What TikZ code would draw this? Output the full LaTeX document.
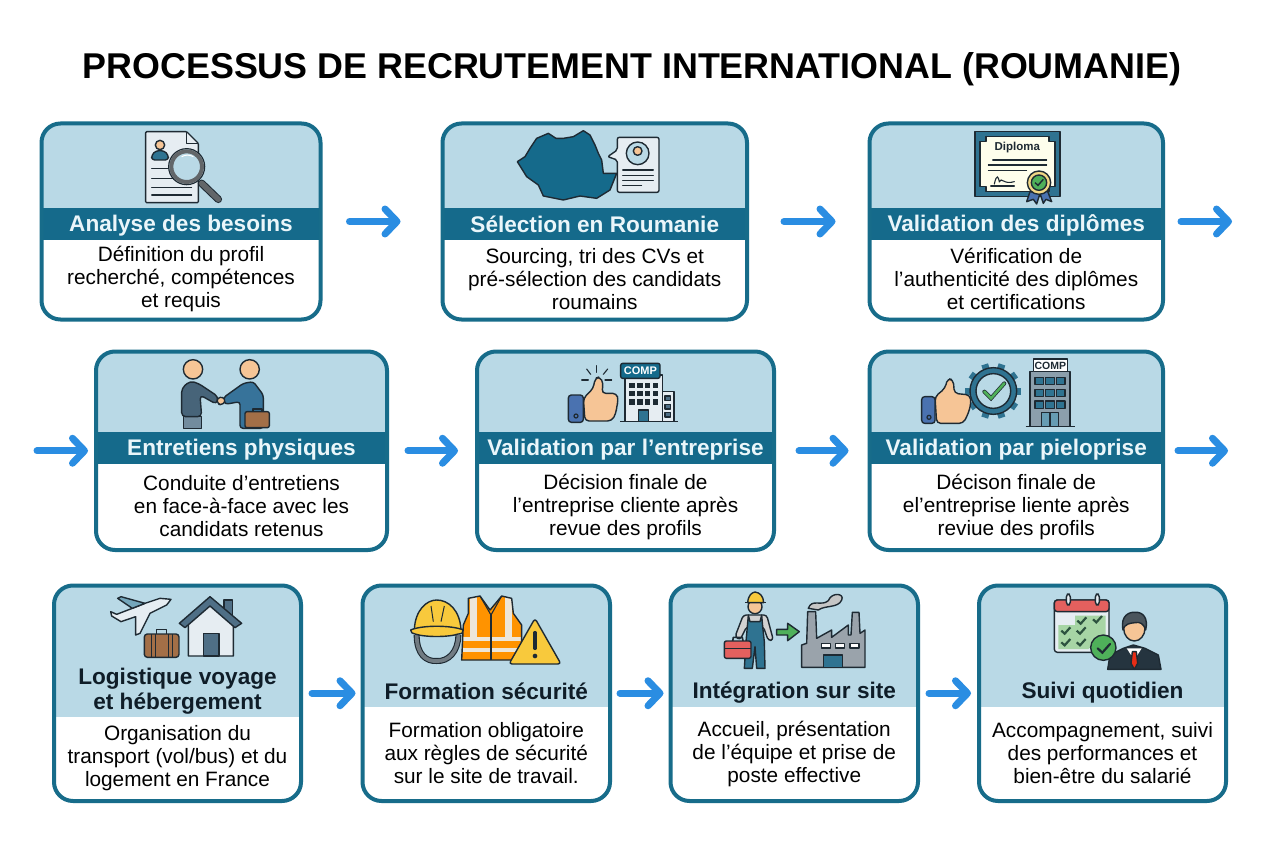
\documentclass[tikz,border=0pt]{standalone}
\usepackage{fontspec}
\setmainfont{Liberation Sans}
\usetikzlibrary{arrows.meta,calc}
\definecolor{cardline}{HTML}{176C8A}
\definecolor{cardlight}{HTML}{B9D9E6}
\definecolor{cardband}{HTML}{156A8B}
\definecolor{flowblue}{HTML}{2A8DE2}
\definecolor{ink}{HTML}{1E2A33}
\definecolor{headdark}{HTML}{0F1D28}
\definecolor{headlight}{HTML}{EAF6FA}
\definecolor{skin}{HTML}{F6C596}
\definecolor{teal}{HTML}{2F7391}
\definecolor{paper}{HTML}{E6EDF2}
\definecolor{gold}{HTML}{F8C93C}
\definecolor{grnok}{HTML}{4FB05A}
\definecolor{grnpale}{HTML}{A7D5A5}
\definecolor{brownc}{HTML}{A36F47}
\definecolor{slate}{HTML}{4F6F86}
\definecolor{cuffb}{HTML}{4A72B0}
\definecolor{factgray}{HTML}{9AA3AB}
\definecolor{towergray}{HTML}{8C9FAC}
\definecolor{calred}{HTML}{E4605E}
\definecolor{stripe}{HTML}{EDE6D8}
\tikzset{
  cardbox/.style={draw=cardline,line width=4pt,rounded corners=19pt,inner sep=0pt,outer sep=0pt},
  cardhead/.style={font=\bfseries\fontsize{22.6}{25}\selectfont,align=center,inner sep=0pt},
  cardtext/.style={font=\fontsize{20.8}{23}\selectfont,align=center,inner sep=0pt,text=black},
  flow/.style={draw=flowblue,line width=7pt,line cap=round,-{Straight Barb[length=12pt,width=25pt,line width=7pt,round]}},
  zc/.style 2 args={shift={(#1,#2)},x=0.33333pt,y=-0.33333pt},
  ic/.style={draw=ink,line width=1.4pt,line join=round},
  thin line/.style={draw=ink,line width=1.1pt,line cap=round},
}
\newcommand{\bandcol}{cardband}
\newcommand{\headcol}{headlight}
% id x0 x1 y0 y1 bandtop bandbottom title body
\newcommand{\makecard}[9]{%
  \begin{scope}
    \clip[rounded corners=19pt] (#2,#4) rectangle (#3,#5);
    \fill[white] (#2,#4) rectangle (#3,#5);
    \fill[cardlight] (#2,#4) rectangle (#3,#6);
    \fill[\bandcol] (#2,#6) rectangle (#3,#7);
  \end{scope}
  \node[cardbox,minimum width=(#3-#2)*1pt,minimum height=(#5-#4)*1pt] (#1) at ({(#2+#3)/2},{(#4+#5)/2}) {};
  \node[cardhead,text=\headcol] (#1-head) at ({(#2+#3)/2},{(#6+#7)/2}) {\rule{0pt}{20pt}#8\rule[-4pt]{0pt}{4pt}};
  \node[cardtext] (#1-body) at ({(#2+#3)/2},{(#7+#5)/2-0.5}) {#9};
}
\begin{document}
\begin{tikzpicture}[x=1pt,y=-1pt]
\useasboundingbox (0,0) rectangle (1264,848);
\fill[white] (0,0) rectangle (1264,848);
\node[inner sep=0pt,font=\bfseries\fontsize{35.85}{40}\selectfont,text=black] (title) at (632,69) {PROCESSUS DE RECRUTEMENT INTERNATIONAL (ROUMANIE)};

\makecard{a}{41.5}{320.5}{123.5}{319.5}{208}{240}{Analyse des besoins}{Définition du profil\\recherché, compétences\\et requis}
\makecard{b}{442.5}{747}{123.5}{319.5}{208}{240}{Sélection en Roumanie}{Sourcing, tri des CVs et\\pré-sélection des candidats\\roumains}
\makecard{c}{869.5}{1163}{123.5}{319.5}{208}{240}{Validation des diplômes}{Vérification de\\l'authenticité des diplômes\\et certifications}
\makecard{d}{96}{387}{351.5}{550}{432}{464}{Entretiens physiques}{Conduite d'entretiens\\en face-à-face avec les\\candidats retenus}
\makecard{e}{477}{774}{351.5}{550}{432}{464}{Validation par l’entreprise}{Décision finale de\\l'entreprise cliente après\\revue des profils}
\makecard{f}{869.5}{1163}{351.5}{550}{432}{464}{Validation par pieloprise}{Décison finale de\\el'entreprise liente après\\reviue des profils}
\renewcommand{\bandcol}{cardlight}
\renewcommand{\headcol}{headdark}
\makecard{g}{54}{301}{585.5}{801}{661}{717}{Logistique voyage\\et hébergement}{Organisation du\\transport (vol/bus) et du\\logement en France}
\makecard{h}{362.5}{610}{585.5}{801}{675}{707}{Formation sécurité}{Formation obligatoire\\aux règles de sécurité\\sur le site de travail.}
\makecard{i}{670.5}{918}{585.5}{801}{675}{707}{Intégration sur site}{Accueil, présentation\\de l'équipe et prise de\\poste effective}
\makecard{j}{979}{1226}{585.5}{801}{675}{707}{Suivi quotidien}{Accompagnement, suivi\\des performances et\\bien-être du salarié}

% connectors
\coordinate (c-out) at (1232,221.5);
\coordinate (d-in) at (37,450.75);
\coordinate (f-out) at (1228,450.75);
\draw[flow,shorten <=29pt,shorten >=42pt] (a) -- (b);
\draw[flow,shorten <=37pt,shorten >=34pt] (b) -- (c);
\draw[flow,shorten <=18pt] (c) -- (c-out);
\draw[flow,shorten >=8pt] (d-in) -- (d);
\draw[flow,shorten <=21pt,shorten >=19pt] (d) -- (e);
\draw[flow,shorten <=25pt,shorten >=21pt] (e) -- (f);
\draw[flow,shorten <=15pt] (f) -- (f-out);
\draw[flow,shorten <=11pt,shorten >=7pt] (g) -- (h);
\draw[flow,shorten <=10pt,shorten >=7pt] (h) -- (i);
\draw[flow,shorten <=11pt,shorten >=8pt] (i) -- (j);

% icon a: document and magnifier
\begin{scope}[zc={30}{110}]
  \filldraw[ic,fill=paper,rounded corners=1pt] (347,65) -- (470,65) -- (505,100) -- (505,278) -- (347,278) -- cycle;
  \draw[ic] (470,65) -- (470,100) -- (505,100);
  \filldraw[ic,fill=skin] (390,105) circle (14);
  \filldraw[ic,fill=teal,rounded corners=3pt] (365,150) -- (365,135) -- (378,122) -- (402,122) -- (415,135) -- (415,150) -- cycle;
  \foreach \yy in {175,205,232,255} \draw[thin line] (365,\yy) -- (485,\yy);
  \draw[ink,line width=7.5pt,line cap=round] (515,220) -- (565,268);
  \draw[gray!70!ink,line width=5.5pt,line cap=round] (515,220) -- (565,268);
  \filldraw[draw=ink,line width=1.2pt,fill=cardlight] (470,170) circle (54);
  \draw[draw=gray!70!ink,line width=4pt] (470,170) circle (46);
  \draw[white,line width=1pt] (455,140) arc[start angle=240,end angle=300,radius=35];
\end{scope}

% icon b: map and CV
\begin{scope}[zc={430}{110}]
  \filldraw[ic,fill=cardband] (262,155) -- (285,140) -- (300,115) -- (320,85) -- (355,70) -- (378,85) -- (400,85) -- (430,80) -- (460,62) -- (480,75) -- (495,105) -- (505,130) -- (515,150) -- (520,190) -- (560,190) -- (550,215) -- (540,240) -- (500,265) -- (450,258) -- (400,270) -- (340,258) -- (325,225) -- (290,200) -- cycle;
  \filldraw[ic,fill=paper,rounded corners=2pt] (562,82) -- (687,82) -- (687,247) -- (562,247) -- (562,150) -- (533,140) -- (562,120) -- cycle;
  \filldraw[ic,fill=cardlight] (623,130) circle (34);
  \begin{scope}
    \clip (623,130) circle (33);
    \filldraw[ic,fill=cuffb!80!purple] (593,170) arc[start angle=180,end angle=0,radius=30];
  \end{scope}
  \filldraw[ic,fill=skin] (623,123) circle (13);
  \foreach \yy in {180,197,211} \draw[thin line] (578,\yy) -- (670,\yy);
  \draw[thin line] (578,227) -- (635,227);
\end{scope}

% icon c: diploma
\begin{scope}[zc={860}{110}]
  \filldraw[ic,fill=teal] (345,65) rectangle (600,260);
  \filldraw[ic,fill=paper!40!yellow!12!white] (378,80) -- (567,80) -- (567,95) -- (585,95) -- (585,230) -- (567,230) -- (567,245) -- (378,245) -- (378,230) -- (360,230) -- (360,95) -- (378,95) -- cycle;
  \node[inner sep=0pt,font=\bfseries\fontsize{11.5}{13}\selectfont,text=ink] (diplomaword) at (472,114) {Diploma};
  \draw[thin line] (398,150) -- (560,150);
  \draw[thin line] (385,165) -- (560,165);
  \draw[thin line] (385,182) -- (500,182);
  \draw[thin line] (392,228) -- (463,228);
  \draw[thin line] (403,222) .. controls (410,190) and (415,200) .. (418,215) .. controls (425,200) and (430,225) .. (463,215);
  \filldraw[ic,fill=cuffb] (510,245) -- (500,275) -- (520,268) -- (530,282) -- (540,250) -- cycle;
  \filldraw[ic,fill=cuffb] (540,250) -- (550,280) -- (558,268) -- (575,275) -- (562,242) -- cycle;
  \filldraw[ic,fill=gold!60!paper] (537,218) circle (35);
  \filldraw[ic,fill=grnok] (537,218) circle (23);
  \draw[ink,line width=1.4pt] (525,218) -- (534,226) -- (550,208);
\end{scope}

% icon d: handshake
\begin{scope}[zc={90}{345}]
  \filldraw[ic,fill=slate!80!white] (280,215) rectangle (335,250);
  \filldraw[ic,fill=slate!90!black,rounded corners=4pt] (275,215) -- (275,130) -- (300,108) -- (325,115) -- (385,155) -- (380,178) -- (330,150) -- (335,215) -- cycle;
  \filldraw[ic,fill=teal!70!cuffb,rounded corners=3pt] (450,250) -- (450,170) -- (405,178) -- (400,158) -- (460,115) -- (490,110) -- (520,150) -- (520,250) -- cycle;
  \filldraw[ic,fill=skin,rounded corners=3pt] (380,160) -- (400,155) -- (407,170) -- (395,180) -- (383,177) -- cycle;
  \filldraw[ic,fill=skin] (309,73) circle (29);
  \filldraw[ic,fill=skin] (479,73) circle (29);
  \draw[ic,line width=1.8pt] (490,200) -- (490,192) -- (515,192) -- (515,200);
  \filldraw[ic,fill=brownc,rounded corners=2pt] (465,200) rectangle (538,248);
\end{scope}

% icon e: thumb and building
\begin{scope}[zc={470}{345}]
  \foreach \xa/\ya/\xb/\yb in {380/62/380/82,350/72/362/88,413/72/400/88,335/105/355/105,405/105/425/105} \draw[thin line] (\xa,\ya) -- (\xb,\yb);
  \filldraw[ic,fill=skin,rounded corners=4pt] (340,160) -- (370,130) -- (375,100) -- (390,95) -- (400,115) -- (395,145) -- (440,145) -- (445,165) -- (440,185) -- (438,205) -- (425,228) -- (345,228) -- cycle;
  \filldraw[ic,fill=cuffb,rounded corners=3pt] (295,150) rectangle (340,232);
  \draw[ink,line width=1.2pt] (318,213) circle (6);
  \filldraw[ic,fill=paper] (578,140) rectangle (612,230);
  \foreach \yy in {153,178,202} \filldraw[ic,fill=slate] (585,\yy) rectangle (602,\yy+14);
  \filldraw[ic,fill=paper] (465,90) rectangle (578,230);
  \foreach \yy in {113,137,163} \foreach \xx in {478,502,525,548} \fill[ink] (\xx,\yy) rectangle (\xx+16,\yy+16);
  \filldraw[ic,fill=teal] (505,195) rectangle (535,230);
  \filldraw[ic,fill=cardband,rounded corners=2pt] (452,55) rectangle (570,100);
  \node[inner sep=0pt,font=\bfseries\fontsize{11}{13}\selectfont,text=white] (compe) at (511,78) {COMP};
  \draw[ink,line width=1.5pt] (450,230) -- (625,230);
\end{scope}

% icon f: thumb, gear and building
\begin{scope}[zc={865}{345}]
  \foreach \aa in {0,36,...,324} \draw[teal,line width=7pt] ({385+68*cos(\aa)},{138+68*sin(\aa)}) -- ({385+84*cos(\aa)},{138+84*sin(\aa)});
  \filldraw[ic,fill=teal] (385,138) circle (70);
  \filldraw[ic,fill=cardlight] (385,138) circle (52);
  \draw[ink,line width=4pt,line cap=round] (358,140) -- (378,160) -- (418,115);
  \draw[grnok,line width=2.6pt,line cap=round] (358,140) -- (378,160) -- (418,115);
  \filldraw[ic,fill=skin,rounded corners=4pt] (210,155) -- (240,130) -- (248,100) -- (265,105) -- (268,145) -- (315,150) -- (318,175) -- (310,205) -- (295,235) -- (215,235) -- cycle;
  \filldraw[ic,fill=cuffb,rounded corners=3pt] (170,155) rectangle (210,235);
  \draw[ink,line width=1.2pt] (192,217) circle (6);
  \filldraw[ic,fill=towergray] (495,80) rectangle (615,245);
  \foreach \yy in {97,133,168} \foreach \xx in {510,542,574} \filldraw[ic,fill=teal] (\xx,\yy) rectangle (\xx+26,\yy+22);
  \filldraw[ic,fill=teal!60!cardlight] (530,203) rectangle (580,245);
  \draw[ink,line width=1.2pt] (555,203) -- (555,245);
  \filldraw[ic,fill=white] (505,42) rectangle (607,80);
  \node[inner sep=0pt,font=\bfseries\fontsize{10.5}{12}\selectfont,text=ink] (compf) at (556,62) {COMP};
  \draw[ink,line width=1.5pt] (482,245) -- (630,245);
\end{scope}

% icon g: plane, case, house
\begin{scope}[zc={45}{580}]
  \filldraw[ic,fill=paper] (378,58) -- (345,55) -- (300,70) -- (262,85) -- (215,103) -- (197,95) -- (200,108) -- (228,125) -- (272,110) -- (272,165) -- (285,160) -- (315,100) -- (365,75) -- cycle;
  \filldraw[ic,fill=teal!50!cardlight] (228,50) -- (218,55) -- (262,85) -- (300,70) -- cycle;
  \draw[ic,line width=1.6pt] (335,162) -- (335,148) -- (365,148) -- (365,162);
  \filldraw[ic,fill=brownc,rounded corners=3pt] (298,162) rectangle (402,232);
  \foreach \xx in {320,332,370,382} \draw[ink,line width=1pt] (\xx,162) -- (\xx,232);
  \filldraw[ic,fill=slate] (537,60) rectangle (562,110);
  \filldraw[ic,fill=paper] (430,120) -- (495,70) -- (565,120) -- (565,228) -- (430,228) -- cycle;
  \filldraw[ic,fill=slate] (403,130) -- (495,50) -- (590,130) -- (570,143) -- (495,78) -- (420,143) -- cycle;
  \filldraw[ic,fill=slate] (475,160) rectangle (522,228);
\end{scope}

% icon h: helmet, vest, warning
\begin{scope}[zc={355}{580}]
  \draw[ink,line width=6pt] (185,165) .. controls (185,225) and (215,245) .. (245,243) .. controls (280,245) and (310,215) .. (310,165);
  \draw[gray!70!slate,line width=3.8pt] (185,165) .. controls (185,225) and (215,245) .. (245,243) .. controls (280,245) and (310,215) .. (310,165);
  \filldraw[ic,fill=gold] (178,150) .. controls (180,90) and (215,60) .. (245,60) .. controls (280,60) and (315,90) .. (318,150) -- cycle;
  \filldraw[ic,fill=gold] (167,150) .. controls (200,135) and (290,135) .. (325,150) .. controls (325,158) and (320,162) .. (310,162) .. controls (280,172) and (210,172) .. (180,162) .. controls (172,160) and (167,158) .. (167,150) -- cycle;
  \draw[ink,line width=1pt] (228,78) -- (235,125);
  \draw[ink,line width=1pt] (268,78) -- (258,125);
  \fill[orange!85!yellow] (340,55) -- (375,48) -- (405,90) -- (440,48) -- (470,55) -- (475,100) -- (500,135) -- (500,240) -- (320,240) -- (325,135) -- (340,100) -- cycle;
  \begin{scope}
    \clip (340,55) -- (375,48) -- (405,90) -- (440,48) -- (470,55) -- (475,100) -- (500,135) -- (500,240) -- (320,240) -- (325,135) -- (340,100) -- cycle;
    \fill[stripe] (345,40) rectangle (365,170);
    \fill[stripe] (450,40) rectangle (470,170);
    \fill[stripe] (320,170) rectangle (500,182);
    \fill[stripe] (320,205) rectangle (500,215);
  \end{scope}
  \draw[ink,line width=1.1pt] (375,48) -- (408,105) -- (440,48);
  \draw[ink,line width=1.1pt] (408,105) -- (408,240);
  \draw[ic] (340,55) -- (375,48) -- (405,90) -- (440,48) -- (470,55) -- (475,100) -- (500,135) -- (500,240) -- (320,240) -- (325,135) -- (340,100) -- cycle;
  \filldraw[ic,fill=gold,rounded corners=3pt] (540,115) -- (618,252) -- (462,252) -- cycle;
  \draw[ink,line width=3.5pt,line cap=round] (540,158) -- (540,205);
  \fill[ink] (540,228) circle (7);
\end{scope}

% icon i: worker and factory
\begin{scope}[zc={665}{580}]
  \filldraw[ic,fill=gray!35!white,rounded corners=3pt] (235,105) -- (305,105) -- (325,180) -- (310,182) -- (295,140) -- (245,140) -- (225,180) -- (210,170) -- cycle;
  \filldraw[ic,fill=teal] (250,105) -- (255,125) -- (285,125) -- (290,105) -- (293,140) -- (298,185) -- (300,265) -- (275,265) -- (270,200) -- (262,265) -- (238,265) -- (243,185) -- (247,140) -- cycle;
  \filldraw[ic,fill=skin] (270,80) circle (21);
  \filldraw[ic,fill=gold] (248,68) .. controls (250,45) and (260,38) .. (270,36) .. controls (285,38) and (295,48) .. (296,68) -- cycle;
  \draw[ic,line width=1.6pt,fill=gold] (240,68) -- (302,68);
  \draw[ic,line width=1.6pt] (203,183) -- (205,172) -- (232,172) -- (234,183);
  \filldraw[ic,fill=calred,rounded corners=2pt] (178,183) rectangle (258,235);
  \draw[ink,line width=1pt] (178,205) -- (258,205);
  \filldraw[ic,fill=grnok] (335,148) -- (368,148) -- (368,130) -- (403,155) -- (368,182) -- (368,165) -- (335,165) -- cycle;
  \filldraw[ic,fill=gray!45!white] (430,85) .. controls (440,55) and (470,80) .. (490,62) .. controls (500,35) and (540,40) .. (530,60) .. controls (520,85) and (480,75) .. (460,90) -- cycle;
  \filldraw[ic,fill=factgray] (410,262) -- (410,195) -- (425,190) -- (428,95) -- (452,95) -- (455,175) -- (500,150) -- (500,172) -- (550,135) -- (550,165) -- (558,165) -- (562,97) -- (582,97) -- (585,160) -- (600,150) -- (600,262) -- cycle;
  \foreach \xx in {470,512,555} \filldraw[ic,fill=white] (\xx,190) rectangle (\xx+27,204);
  \filldraw[ic,fill=teal] (475,225) rectangle (533,262);
\end{scope}

% icon j: calendar and manager
\begin{scope}[zc={975}{580}]
  \filldraw[ic,fill=paper,rounded corners=3pt] (238,60) rectangle (402,217);
  \fill[grnpale] (250,135) -- (300,135) -- (300,107) -- (392,107) -- (392,165) -- (340,207) -- (250,207) -- cycle;
  \filldraw[ic,fill=calred,rounded corners=3pt] (238,60) rectangle (402,95);
  \foreach \xx in {280,367} \filldraw[ic,fill=paper,rounded corners=3pt] (\xx-6,42) rectangle (\xx+6,75);
  \foreach \xx/\yy in {320/122,367/118,272/152,318/152,272/187,318/187} \draw[ink!70!grnok,line width=2.2pt] (\xx-13,\yy) -- (\xx-3,\yy+9) -- (\xx+14,\yy-10);
  \filldraw[ic,fill=ink!85!slate] (398,268) -- (405,225) -- (445,205) -- (475,195) -- (510,205) -- (550,225) -- (558,268) -- cycle;
  \fill[white] (455,205) -- (478,240) -- (500,205) -- cycle;
  \filldraw[ic,fill=red!65!brown] (472,215) -- (484,215) -- (488,250) -- (478,268) -- (468,250) -- cycle;
  \filldraw[ic,fill=skin] (478,145) ellipse (32 and 38);
  \filldraw[ic,fill=ink!80!white] (444,150) .. controls (435,105) and (465,95) .. (480,97) .. controls (505,95) and (520,115) .. (512,150) .. controls (505,130) and (495,125) .. (480,128) .. controls (465,130) and (450,130) .. (444,150) -- cycle;
  \filldraw[ic,fill=grnok] (385,203) circle (38);
  \draw[ink,line width=2.2pt,line cap=round] (368,205) -- (382,218) -- (405,192);
\end{scope}
\end{tikzpicture}
\end{document}
